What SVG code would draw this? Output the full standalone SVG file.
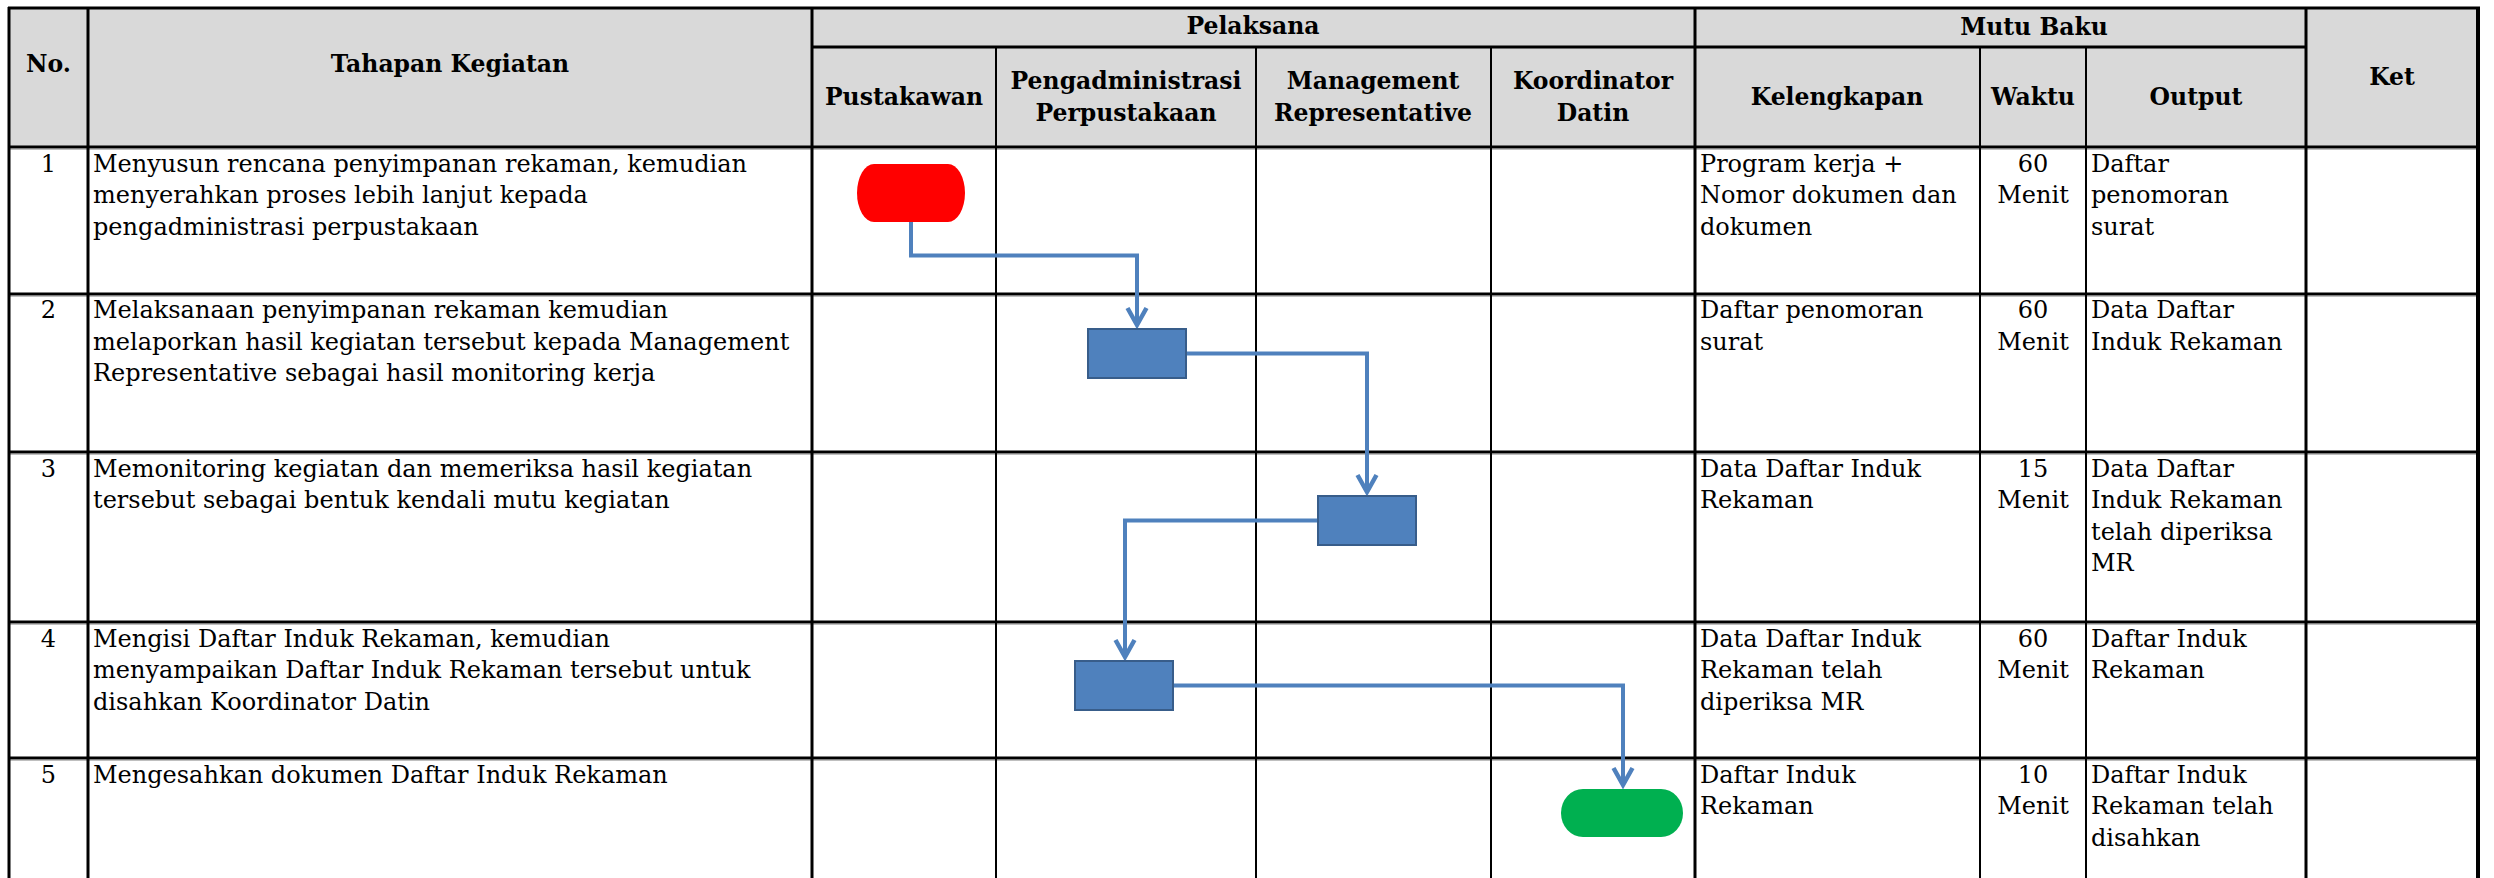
<svg xmlns="http://www.w3.org/2000/svg" width="2494" height="878" viewBox="0 0 2494 878">
<defs>
<style>
.hd{font-family:"DejaVu Serif","Liberation Serif",serif;font-weight:bold;font-size:23.5px;fill:#000;text-anchor:middle}
.tx{font-family:"DejaVu Serif","Liberation Serif",serif;font-size:24px;fill:#000}
.c{text-anchor:middle}
.hl{stroke:#000;stroke-width:3}
.hs{stroke:#bfbfbf;stroke-width:1}
.vl{stroke:#000;stroke-width:2}
.vt{stroke:#000;stroke-width:3}
.conn{fill:none;stroke:#4f81bd;stroke-width:4;marker-end:url(#arr)}
.proc{fill:#4f81bd;stroke:#385d8a;stroke-width:2}
</style>
<marker id="arr" markerUnits="userSpaceOnUse" markerWidth="40" markerHeight="40" viewBox="-20 -20 40 40" refX="0" refY="0" orient="auto" overflow="visible">
<path d="M -17,-9.5 L 0,0 L -17,9.5" fill="none" stroke="#4f81bd" stroke-width="4.5"/>
</marker>
</defs>
<rect x="0" y="0" width="2494" height="878" fill="#fff"/>
<g id="table">
<rect x="9" y="8" width="2469" height="139" fill="#d9d9d9"/>
<g id="header-text">
<text class="hd" x="48.5" y="72">No.</text>
<text class="hd" x="450" y="72">Tahapan Kegiatan</text>
<text class="hd" x="1253" y="34">Pelaksana</text>
<text class="hd" x="904" y="105">Pustakawan</text>
<text class="hd" x="1126" y="89">Pengadministrasi</text>
<text class="hd" x="1126" y="121">Perpustakaan</text>
<text class="hd" x="1373" y="89">Management</text>
<text class="hd" x="1373" y="121">Representative</text>
<text class="hd" x="1593" y="89">Koordinator</text>
<text class="hd" x="1593" y="121">Datin</text>
<text class="hd" x="2034" y="35">Mutu Baku</text>
<text class="hd" x="1837" y="105">Kelengkapan</text>
<text class="hd" x="2033" y="105">Waktu</text>
<text class="hd" x="2196" y="105">Output</text>
<text class="hd" x="2392" y="85">Ket</text>
</g>
<g id="row1">
<text class="tx c" x="48.5" y="171.5">1</text>
<text class="tx" x="93" y="171.5">Menyusun rencana penyimpanan rekaman, kemudian</text>
<text class="tx" x="93" y="203">menyerahkan proses lebih lanjut kepada</text>
<text class="tx" x="93" y="234.5">pengadministrasi perpustakaan</text>
<text class="tx" x="1700" y="171.5">Program kerja +</text>
<text class="tx" x="1700" y="203">Nomor dokumen dan</text>
<text class="tx" x="1700" y="234.5">dokumen</text>
<text class="tx c" x="2033" y="171.5">60</text>
<text class="tx c" x="2033" y="203">Menit</text>
<text class="tx" x="2091" y="171.5">Daftar</text>
<text class="tx" x="2091" y="203">penomoran</text>
<text class="tx" x="2091" y="234.5">surat</text>
</g>
<g id="row2">
<text class="tx c" x="48.5" y="318">2</text>
<text class="tx" x="93" y="318">Melaksanaan penyimpanan rekaman kemudian</text>
<text class="tx" x="93" y="349.5">melaporkan hasil kegiatan tersebut kepada Management</text>
<text class="tx" x="93" y="381">Representative sebagai hasil monitoring kerja</text>
<text class="tx" x="1700" y="318">Daftar penomoran</text>
<text class="tx" x="1700" y="349.5">surat</text>
<text class="tx c" x="2033" y="318">60</text>
<text class="tx c" x="2033" y="349.5">Menit</text>
<text class="tx" x="2091" y="318">Data Daftar</text>
<text class="tx" x="2091" y="349.5">Induk Rekaman</text>
</g>
<g id="row3">
<text class="tx c" x="48.5" y="476.5">3</text>
<text class="tx" x="93" y="476.5">Memonitoring kegiatan dan memeriksa hasil kegiatan</text>
<text class="tx" x="93" y="508">tersebut sebagai bentuk kendali mutu kegiatan</text>
<text class="tx" x="1700" y="476.5">Data Daftar Induk</text>
<text class="tx" x="1700" y="508">Rekaman</text>
<text class="tx c" x="2033" y="476.5">15</text>
<text class="tx c" x="2033" y="508">Menit</text>
<text class="tx" x="2091" y="476.5">Data Daftar</text>
<text class="tx" x="2091" y="508">Induk Rekaman</text>
<text class="tx" x="2091" y="539.5">telah diperiksa</text>
<text class="tx" x="2091" y="571">MR</text>
</g>
<g id="row4">
<text class="tx c" x="48.5" y="646.5">4</text>
<text class="tx" x="93" y="646.5">Mengisi Daftar Induk Rekaman, kemudian</text>
<text class="tx" x="93" y="678">menyampaikan Daftar Induk Rekaman tersebut untuk</text>
<text class="tx" x="93" y="709.5">disahkan Koordinator Datin</text>
<text class="tx" x="1700" y="646.5">Data Daftar Induk</text>
<text class="tx" x="1700" y="678">Rekaman telah</text>
<text class="tx" x="1700" y="709.5">diperiksa MR</text>
<text class="tx c" x="2033" y="646.5">60</text>
<text class="tx c" x="2033" y="678">Menit</text>
<text class="tx" x="2091" y="646.5">Daftar Induk</text>
<text class="tx" x="2091" y="678">Rekaman</text>
</g>
<g id="row5">
<text class="tx c" x="48.5" y="782.5">5</text>
<text class="tx" x="93" y="782.5">Mengesahkan dokumen Daftar Induk Rekaman</text>
<text class="tx" x="1700" y="782.5">Daftar Induk</text>
<text class="tx" x="1700" y="814">Rekaman</text>
<text class="tx c" x="2033" y="782.5">10</text>
<text class="tx c" x="2033" y="814">Menit</text>
<text class="tx" x="2091" y="782.5">Daftar Induk</text>
<text class="tx" x="2091" y="814">Rekaman telah</text>
<text class="tx" x="2091" y="845.5">disahkan</text>
</g>
<g id="grid">
<line class="hs" x1="9" y1="149.5" x2="2478" y2="149.5"/>
<line class="hs" x1="9" y1="296.5" x2="2478" y2="296.5"/>
<line class="hs" x1="9" y1="454.5" x2="2478" y2="454.5"/>
<line class="hs" x1="9" y1="624.5" x2="2478" y2="624.5"/>
<line class="hs" x1="9" y1="760.5" x2="2478" y2="760.5"/>
<line class="hl" x1="8" y1="8" x2="2480" y2="8"/>
<line class="hl" x1="812" y1="47" x2="2306" y2="47"/>
<line class="hl" x1="8" y1="147" x2="2480" y2="147"/>
<line class="hl" x1="8" y1="294" x2="2480" y2="294"/>
<line class="hl" x1="8" y1="452" x2="2480" y2="452"/>
<line class="hl" x1="8" y1="622" x2="2480" y2="622"/>
<line class="hl" x1="8" y1="758" x2="2480" y2="758"/>
<line class="vt" x1="9" y1="7" x2="9" y2="878"/>
<line class="vt" x1="88" y1="7" x2="88" y2="878"/>
<line class="vt" x1="812" y1="7" x2="812" y2="878"/>
<line class="vl" x1="996" y1="47" x2="996" y2="878"/>
<line class="vl" x1="1256" y1="47" x2="1256" y2="878"/>
<line class="vl" x1="1491" y1="47" x2="1491" y2="878"/>
<line class="vt" x1="1695" y1="7" x2="1695" y2="878"/>
<line class="vl" x1="1980" y1="47" x2="1980" y2="878"/>
<line class="vl" x1="2086" y1="47" x2="2086" y2="878"/>
<line class="vt" x1="2306" y1="7" x2="2306" y2="878"/>
<line x1="2478" y1="7" x2="2478" y2="878" stroke="#000" stroke-width="4"/>
</g>
</g>
<g id="connectors">
<path class="conn" d="M 911,222 V 255.5 H 1137 V 325"/>
<path class="conn" d="M 1186,353.5 H 1367 V 492"/>
<path class="conn" d="M 1318,520.5 H 1125 V 657"/>
<path class="conn" d="M 1173,685.5 H 1623 V 785"/>
</g>
<g id="start">
<rect x="857" y="164" width="108" height="58" rx="17" ry="29" fill="#ff0000"/>
</g>
<g id="step2">
<rect class="proc" x="1088" y="329" width="98" height="49"/>
</g>
<g id="step3">
<rect class="proc" x="1318" y="496" width="98" height="49"/>
</g>
<g id="step4">
<rect class="proc" x="1075" y="661" width="98" height="49"/>
</g>
<g id="end">
<rect x="1561" y="789" width="122" height="48" rx="22" ry="24" fill="#00b050"/>
</g>
</svg>
